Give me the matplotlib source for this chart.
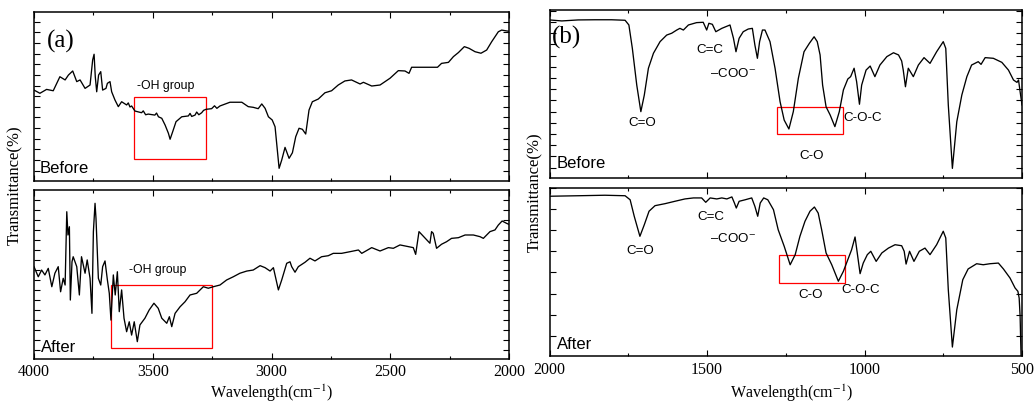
import numpy as np
import matplotlib
matplotlib.use("Agg")
import matplotlib.pyplot as plt
from matplotlib.patches import Rectangle
from matplotlib.ticker import MultipleLocator

plt.rcParams["font.family"] = ["Liberation Serif", "DejaVu Serif"]
plt.rcParams["mathtext.fontset"] = "stix"
SANS = ["Liberation Sans", "DejaVu Sans"]

# ---------------------------------------------------------------------------
#  Spectra (transmittance in % of panel height)
# ---------------------------------------------------------------------------
a_before_wn = [4000, 3975, 3947, 3919, 3891, 3869, 3855, 3837, 3820, 3806, 3785, 3764, 3753, 3747,
               3742, 3736, 3728, 3719, 3711, 3697, 3691, 3680, 3673, 3659, 3645, 3631, 3610, 3603,
               3596, 3589, 3575, 3547, 3540, 3530, 3519, 3491, 3484, 3476, 3462, 3448, 3434, 3427,
               3416, 3402, 3378, 3350, 3343, 3336, 3322, 3315, 3306, 3294, 3286, 3276, 3252, 3240,
               3230, 3217, 3175, 3125, 3098, 3077, 3056, 3041, 3027, 3013, 2997, 2985, 2968,
               2957, 2943, 2926, 2912, 2898, 2884, 2870, 2856, 2842, 2828, 2803, 2775, 2747, 2719,
               2691, 2663, 2627, 2613, 2578, 2543, 2501, 2466, 2438, 2421, 2410, 2354, 2301, 2284,
               2255, 2234, 2213, 2188, 2168, 2143, 2118, 2094, 2073, 2045, 2031, 2010, 2000]
a_before_t = [53.8, 51.9, 54.2, 53.4, 61.7, 59.8, 62.7, 65.1, 58.8, 59.8, 54.8, 56.8, 71.6, 75,
              61.7, 52.8, 62.7, 64.7, 53.8, 54.8, 57.8, 58.8, 52.8, 47.9, 44, 46.9, 45, 46.2,
              43.8, 44.4, 41.4, 40.4, 41.5, 39.2, 39.6, 39, 40.2, 38, 37.1, 33.1, 28.2, 24.7,
              29.2, 35.1, 38, 38.5, 40, 38.2, 39, 40.8, 39.2, 40.4, 41.8, 42.4, 42.8, 44.5,
              43, 44.4, 46.6, 46.6, 44, 43.6, 42.8, 45.6, 43, 38, 36.1, 32.1, 7.5,
              12.4, 19.9, 13.4, 16.7, 26.2, 31.2, 30.6, 27.8, 42, 46.9, 48.5, 52.2, 53.4, 56.8,
              59.2, 59.8, 57.4, 58.4, 56.2, 56.8, 60.8, 65.3, 65.1, 63.7, 67.3, 67.3, 67.3, 69.6,
              70.2, 73.6, 76, 79.5, 78.5, 76.5, 75.6, 77.5, 82.4, 88.3, 89.3, 88.8, 88.6]

a_after_wn = [4000, 3982, 3968, 3954, 3940, 3925, 3912, 3898, 3888, 3877, 3869, 3862, 3857, 3851,
              3847, 3840, 3835, 3820, 3809, 3800, 3785, 3776, 3764, 3756, 3750, 3743, 3739, 3729,
              3719, 3711, 3701, 3691, 3683, 3676, 3666, 3658, 3649, 3641, 3631, 3621, 3610, 3599,
              3589, 3578, 3565, 3554, 3533, 3515, 3495, 3477, 3462, 3441, 3430, 3420, 3406, 3385,
              3364, 3343, 3315, 3287, 3266, 3245, 3217, 3189, 3161, 3133, 3104, 3077, 3048, 3027,
              3006, 2992, 2982, 2971, 2957, 2936, 2922, 2915, 2901, 2887, 2859, 2838, 2817, 2789,
              2761, 2740, 2705, 2669, 2634, 2620, 2578, 2543, 2508, 2487, 2459, 2424, 2403, 2393,
              2379, 2333, 2326, 2319, 2305, 2284, 2263, 2242, 2213, 2185, 2150, 2122, 2108, 2094,
              2080, 2059, 2045, 2029, 2010, 2000]
a_after_t = [54.5, 48.5, 52.5, 49.6, 53.5, 42.6, 50.6, 54.5, 39.6, 47.6, 43.6, 87.1, 73.3, 78.2,
             34.7, 57.4, 60.4, 54.5, 37.7, 60.4, 50.6, 58.5, 47.6, 26.8, 75.2, 92.1, 83.2, 47.6,
             43.6, 54.5, 57.9, 46.6, 38.7, 22.8, 49.6, 37.7, 51.5, 27.8, 40.7, 23.9, 15.9, 21.8,
             13.9, 21.8, 10, 19.9, 23.9, 28.8, 32.8, 29.8, 23.9, 20.9, 24.8, 18.9, 26.8, 30.7,
             33.7, 37.7, 38.7, 42.6, 41.7, 42.6, 43.6, 46.6, 48.5, 50.6, 51.9, 52.5, 55.1, 53.9,
             51.9, 53.9, 47.6, 40.7, 46.6, 56.5, 57.4, 54.5, 51.2, 54.5, 57.1, 59.5, 57.9, 60.4,
             61, 62.4, 62.4, 63.4, 64.4, 62.4, 65.8, 63.8, 65.8, 65.4, 67.4, 66.4, 65.8, 61.8,
             75.3, 68.4, 75.3, 74.3, 65.4, 67.8, 69.3, 71.3, 71.7, 73.3, 73.3, 72.3, 71.3, 73.3,
             75.3, 76.3, 79.2, 81.6, 80.2, 79.6]

b_before_wn = [2000, 1961, 1909, 1856, 1803, 1760, 1748, 1737, 1723, 1710, 1699, 1686, 1670, 1649,
               1628, 1612, 1596, 1586, 1575, 1559, 1533, 1512, 1501, 1494, 1483, 1472, 1453, 1427,
               1416, 1408, 1398, 1385, 1369, 1356, 1348, 1340, 1333, 1324, 1316, 1300, 1284, 1268,
               1255, 1240, 1226, 1210, 1192, 1175, 1160, 1150, 1141, 1133, 1122, 1109, 1094, 1080,
               1067, 1053, 1044, 1033, 1025, 1016, 1009, 995, 982, 967, 951, 929, 908, 892,
               882, 877, 870, 861, 845, 829, 811, 792, 771, 750, 742, 734, 721, 707,
               691, 675, 660, 639, 630, 617, 591, 564, 543, 527, 516, 511, 506, 500]
b_before_t = [94.1, 93.5, 94.1, 94.2, 94.2, 93.9, 91.1, 77.2, 55.4, 39.6, 49.5, 65.4, 74.3, 81.2,
              85.1, 86.2, 88.1, 89.1, 88.1, 91.1, 92.5, 92.7, 88.1, 92.1, 91.5, 87.1, 89.1, 91.1,
              83.2, 75.2, 83.2, 87.1, 88.7, 89.1, 79.2, 71.3, 81.2, 88.1, 88.1, 81.2, 65.4, 45.5,
              34.6, 29.3, 39.6, 59.4, 75.2, 80.2, 84.1, 81.2, 73.3, 55.4, 42.5, 37.6, 30.7, 39.6,
              52.5, 59, 60.4, 65.4, 57.4, 44, 55.4, 64.3, 66.7, 60.4, 67.3, 72.3, 74.6, 73.3,
              69.7, 64.3, 54.4, 65.4, 60.4, 67.3, 71.7, 68.3, 75.2, 81.2, 77.2, 43.6, 5.9, 33.6,
              49.5, 60.4, 67.3, 69.3, 67.7, 71.7, 71.3, 68.9, 64.3, 58.4, 57, 58.4, 51.5, 43.6]

b_after_wn = [2000, 1909, 1824, 1760, 1744, 1731, 1713, 1699, 1684, 1665, 1633, 1602, 1570, 1543,
              1517, 1504, 1490, 1469, 1453, 1437, 1421, 1413, 1407, 1398, 1379, 1358, 1348, 1339,
              1331, 1320, 1307, 1289, 1274, 1255, 1236, 1220, 1205, 1189, 1173, 1159, 1147, 1136,
              1122, 1104, 1083, 1067, 1051, 1041, 1030, 1023, 1014, 1004, 991, 980, 963, 945,
              924, 903, 882, 874, 868, 857, 843, 826, 808, 792, 771, 750, 742, 734,
              721, 707, 688, 671, 644, 623, 602, 575, 559, 538, 522, 513, 509, 506, 503, 500]
b_after_t = [95.1, 95.4, 95.7, 95.4, 93, 83.2, 71.3, 78.2, 86.2, 89.5, 90.7, 92.1, 93.5, 94.1,
             94.1, 91.5, 94.1, 93.5, 94.1, 93.5, 94.7, 91.1, 88.1, 92.1, 93, 94.1, 89.1, 83.2,
             91.1, 94.1, 93, 87.1, 75.2, 65.4, 54.4, 60.4, 71.3, 80.2, 86.2, 88.7, 85.1, 75.2,
             61.4, 54.4, 44.6, 50.5, 58.4, 63.3, 70.9, 61.4, 49.1, 55.4, 60.4, 62.4, 56.4, 61.4,
             64.3, 66.3, 65.7, 62.4, 54.8, 62.4, 56.4, 62.4, 64.3, 60.4, 66.3, 74.3, 70.3, 39.6,
             5.5, 27.7, 45.5, 51.9, 55, 54.4, 55, 55.4, 51.9, 46.5, 40.6, 38.6, 34.6, 23.8, 0.2, 0]

# highlighted regions: (wn_low, wn_high, t_low, t_high)
box_a_before = (3276, 3577, 12.8, 49.5)
box_a_after = (3252, 3676, 6.1, 43.6)
box_b_before = (1069, 1279, 26.1, 42.2)
box_b_after = (1061, 1272, 43.6, 60.0)

# peak labels: (text, wn, t)
labels_b_before = [("C=O", 1707, 32.7), ("C=C", 1492, 76.2), ("\u2013COO$^{-}$", 1417, 62.4),
                   ("C-O-C", 1006, 36.0), ("C-O", 1167, 13.4)]
labels_b_after = [("C=O", 1712, 62.4), ("C=C", 1488, 82.8), ("\u2013COO$^{-}$", 1417, 69.7),
                  ("C-O-C", 1012, 39.2), ("C-O", 1170, 36.6)]

# ---------------------------------------------------------------------------
#  Figure
# ---------------------------------------------------------------------------
W, H = 1034, 405
fig = plt.figure(figsize=(W / 100, H / 100), dpi=100)


def px_axes(x0, x1, y0, y1):
    return fig.add_axes([x0 / W, 1 - y1 / H, (x1 - x0) / W, (y1 - y0) / H])


def style(ax, xlim, yfirst, ystep, show_x):
    ax.set_xlim(*xlim)
    ax.set_ylim(0, 100)
    ax.xaxis.set_major_locator(MultipleLocator(500))
    ax.xaxis.set_minor_locator(MultipleLocator(250))
    ax.set_yticks(np.arange(yfirst, 100, ystep))
    ax.tick_params(axis="both", which="both", direction="in", top=True, right=True,
                   labelleft=False, labelsize=11.5, width=0.8)
    ax.tick_params(which="major", length=4)
    ax.tick_params(which="minor", length=2.5)
    ax.tick_params(axis="x", labelbottom=show_x, pad=4)
    for s in ax.spines.values():
        s.set_linewidth(1.1)


ax_a1 = px_axes(34, 509, 12, 181)
ax_a2 = px_axes(34, 509, 190, 358.5)
ax_b1 = px_axes(549.5, 1022, 10, 178.3)
ax_b2 = px_axes(549.5, 1022, 188, 356.3)

style(ax_a1, (4000, 2000), 6.1, 6.3, False)
style(ax_a2, (4000, 2000), 5.3, 5.93, True)
style(ax_b1, (2000, 500), 6.4, 6.65, False)
style(ax_b2, (2000, 500), 12.3, 12.5, True)

lw = 0.95
ax_a1.plot(a_before_wn, a_before_t, color="black", lw=lw)
ax_a2.plot(a_after_wn, a_after_t, color="black", lw=lw)
ax_b1.plot(b_before_wn, b_before_t, color="black", lw=lw)
ax_b2.plot(b_after_wn, b_after_t, color="black", lw=lw)

for ax, (x0, x1, y0, y1) in [(ax_a1, box_a_before), (ax_a2, box_a_after),
                             (ax_b1, box_b_before), (ax_b2, box_b_after)]:
    ax.add_patch(Rectangle((x0, y0), x1 - x0, y1 - y0, fill=False, edgecolor="red", lw=0.9))

ax_a1.text(3447, 56.2, "-OH group", family=SANS, fontsize=8.8, ha="center", va="center")
ax_a2.text(3480, 52.5, "-OH group", family=SANS, fontsize=8.8, ha="center", va="center")

for ax, labs in [(ax_b1, labels_b_before), (ax_b2, labels_b_after)]:
    for txt, x, y in labs:
        ax.text(x, y, txt, family=SANS, fontsize=9.6, ha="center", va="center")

ax_a1.text(0.011, 0.075, "Before", transform=ax_a1.transAxes, family=SANS, fontsize=12, va="center")
ax_a2.text(0.014, 0.066, "After", transform=ax_a2.transAxes, family=SANS, fontsize=12, va="center")
ax_b1.text(0.016, 0.089, "Before", transform=ax_b1.transAxes, family=SANS, fontsize=12, va="center")
ax_b2.text(0.016, 0.069, "After", transform=ax_b2.transAxes, family=SANS, fontsize=12, va="center")

ax_a1.text(0.028, 0.828, "(a)", transform=ax_a1.transAxes, fontsize=18, va="center")
ax_b1.text(0.004, 0.837, "(b)", transform=ax_b1.transAxes, fontsize=18, va="center")

for xc, yc in [(15, 185), (535, 192)]:
    fig.text(xc / W, 1 - yc / H, "Transmittance(%)", rotation=90, ha="center", va="center",
             fontsize=12)
for xc in [271.5, 792]:
    fig.text(xc / W, 1.5 / H, "Wavelength(cm$^{-1}$)", ha="center", va="bottom", fontsize=11.5)

fig.savefig("out.png", dpi=100)
